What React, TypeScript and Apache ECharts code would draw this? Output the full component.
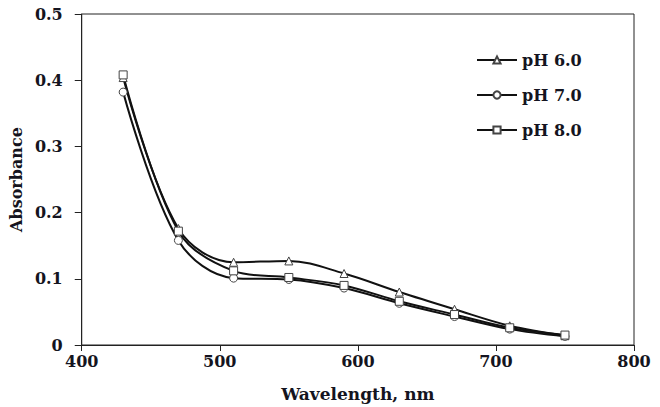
import React, { useEffect, useRef } from "react";
import * as echarts from "echarts";

const wavelengths = [430, 470, 510, 550, 590, 630, 670, 710, 750];
const ph6 = [0.404, 0.176, 0.125, 0.127, 0.108, 0.08, 0.054, 0.029, 0.014];
const ph7 = [0.382, 0.158, 0.101, 0.099, 0.086, 0.063, 0.043, 0.024, 0.013];
const ph8 = [0.408, 0.172, 0.112, 0.102, 0.09, 0.066, 0.046, 0.026, 0.015];
const seriesNames = ["pH 6.0", "pH 7.0", "pH 8.0"];
const seriesSymbols = ["triangle", "circle", "rect"];

const FONT = "DejaVu Serif";
const INK = "#141420";

export default function App() {
  const ref = useRef<HTMLDivElement>(null);
  useEffect(() => {
    if (!ref.current) return;
    const chart = echarts.init(ref.current, null, { renderer: "svg" });
    const datas = [ph6, ph7, ph8];
    chart.setOption({
      animation: false,
      backgroundColor: "#fff",
      grid: {
        left: 72,
        right: 26,
        top: 14,
        bottom: 59,
        show: true,
        borderColor: "#222",
        borderWidth: 1,
        backgroundColor: "transparent",
      },
      legend: {
        orient: "vertical",
        left: 471,
        top: 47,
        itemWidth: 40,
        itemHeight: 9,
        itemGap: 19,
        textStyle: { fontFamily: FONT, fontWeight: "bold", fontSize: 16, color: INK },
        data: seriesNames,
      },
      xAxis: {
        type: "value",
        min: 400,
        max: 800,
        interval: 100,
        name: "Wavelength, nm",
        nameLocation: "middle",
        nameGap: 40,
        nameTextStyle: { fontFamily: FONT, fontWeight: "bold", fontSize: 17, color: INK },
        axisLine: { show: true, lineStyle: { color: "#222", width: 1 } },
        axisTick: { show: true, length: 6, lineStyle: { color: "#222" } },
        axisLabel: { fontFamily: FONT, fontWeight: "bold", fontSize: 16, color: INK, margin: 8 },
        splitLine: { show: false },
      },
      yAxis: {
        type: "value",
        min: 0,
        max: 0.5,
        interval: 0.1,
        name: "Absorbance",
        nameLocation: "middle",
        nameGap: 55,
        nameTextStyle: { fontFamily: FONT, fontWeight: "bold", fontSize: 16, color: INK },
        axisLine: { show: true, lineStyle: { color: "#222", width: 1 } },
        axisTick: { show: true, length: 7, lineStyle: { color: "#222" } },
        axisLabel: { fontFamily: FONT, fontWeight: "bold", fontSize: 16, color: INK, margin: 19 },
        splitLine: { show: false },
      },
      series: datas.map((d, i) => ({
        name: seriesNames[i],
        type: "line",
        smooth: 0.35,
        symbol: seriesSymbols[i],
        symbolSize: 8,
        data: wavelengths.map((w, j) => [w, d[j]]),
        lineStyle: { color: "#111", width: 2 },
        itemStyle: { color: "#fff", borderColor: "#444", borderWidth: 1 },
      })),
    });
    return () => chart.dispose();
  }, []);
  return (
    <div
      ref={ref}
      style={{ position: "fixed", left: 0, top: 0, width: 660, height: 407 }}
    />
  );
}
